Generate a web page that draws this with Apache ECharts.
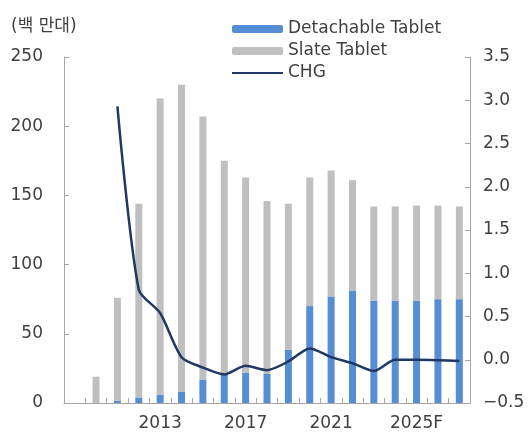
<!DOCTYPE html>
<html>
<head>
<meta charset="utf-8">
<script src="https://cdn.jsdelivr.net/npm/echarts@6/dist/echarts.min.js"></script>
<style>
    html, body {margin: 0; padding: 0; background: #fff;}
    #tabletChart {width: 531px; height: 433px;}
</style>
</head>
<body>
<div id="tabletChart"></div>
<script>
// 연도 (2009는 빈 칸)
var years = ['2009', '2010', '2011', '2012', '2013', '2014', '2015', '2016', '2017', '2018',
    '2019', '2020', '2021', '2022', '2023', '2024', '2025F', '2026F', '2027F']
// 백만대
var detachable = [null, 0, 1.5, 4, 6, 8, 17, 21, 22, 21, 38.5, 70, 77, 81, 74, 74, 74, 75, 75]
var slate = [null, 19, 74.5, 140, 214, 222, 190, 154, 141, 125, 105.5, 93, 91, 80, 68, 68, 68.6, 67.6, 67]
// 증감률
var chg = [null, null, 2.93, 0.81, 0.54, 0.03, -0.09, -0.17, -0.07, -0.12, -0.02, 0.13, 0.03, -0.04, -0.13, 0.0, 0.0, -0.005, -0.015]
var leftTicks = {min: 0, max: 250, step: 50}
var rightTicks = {min: -0.5, max: 3.5, step: 0.5}

var font = "'DejaVu Sans', 'Noto Sans CJK KR', sans-serif"
var textColor = '#404040'
var axisColor = '#a6a6a6'

var chartMethods = {
    /*그래프 그리기*/
    draw() {
        var myChart = echarts.init(document.getElementById('tabletChart'))
        var option = {
            animation: false,
            backgroundColor: '#fff',
            textStyle: {fontFamily: font},
            title: {
                text: '(백 만대)',
                left: 6,
                top: 13,
                textStyle: {fontSize: 17, fontWeight: 'normal', color: textColor, fontFamily: font}
            },
            legend: {
                orient: 'vertical',
                left: 226,
                top: 15,
                itemWidth: 51,
                itemHeight: 8,
                itemGap: 4,
                textStyle: {fontSize: 17, color: textColor, lineHeight: 18, fontFamily: font},
                data: ['Detachable Tablet', 'Slate Tablet', {name: 'CHG', itemStyle: {opacity: 0}}]
            },
            grid: {left: 64, right: 61, top: 57, bottom: 30},
            xAxis: {
                type: 'category',
                data: years,
                axisLine: {lineStyle: {color: axisColor, width: 1}},
                axisTick: {show: true, inside: true, length: 5, interval: 0, lineStyle: {color: axisColor}},
                axisLabel: {
                    interval: function (i) { return i > 0 && i % 4 === 0 },
                    fontSize: 17, color: textColor, margin: 12, fontFamily: font
                },
                splitLine: {show: false}
            },
            yAxis: [{
                type: 'value',
                min: leftTicks.min,
                max: leftTicks.max,
                interval: leftTicks.step,
                axisLine: {show: true, lineStyle: {color: axisColor}},
                axisTick: {show: true, inside: true, length: 5, lineStyle: {color: axisColor}},
                axisLabel: {fontSize: 17, color: textColor, margin: 21, padding: [6, 0, 0, 0], fontFamily: font},
                splitLine: {show: false}
            }, {
                type: 'value',
                min: rightTicks.min,
                max: rightTicks.max,
                interval: rightTicks.step,
                axisLine: {show: true, lineStyle: {color: axisColor}},
                axisTick: {show: true, inside: true, length: 5, lineStyle: {color: axisColor}},
                axisLabel: {
                    fontSize: 17, color: textColor, margin: 13, padding: [6, 0, 0, 0], fontFamily: font,
                    formatter: function (v) { return v.toFixed(1).replace('-', '\u2212') }
                },
                splitLine: {show: false}
            }],
            series: [{
                name: 'Detachable Tablet',
                type: 'bar',
                stack: 'tablet',
                barWidth: 7,
                itemStyle: {color: '#558ed5'},
                data: detachable
            }, {
                name: 'Slate Tablet',
                type: 'bar',
                stack: 'tablet',
                barWidth: 7,
                itemStyle: {color: '#bfbfbf'},
                data: slate
            }, {
                name: 'CHG',
                type: 'line',
                yAxisIndex: 1,
                smooth: 0.25,
                symbol: 'none',
                lineStyle: {color: '#1f3864', width: 2.5},
                itemStyle: {color: '#1f3864'},
                data: chg
            }]
        }
        myChart.setOption(option)
    }
}

chartMethods.draw()
</script>
</body>
</html>
